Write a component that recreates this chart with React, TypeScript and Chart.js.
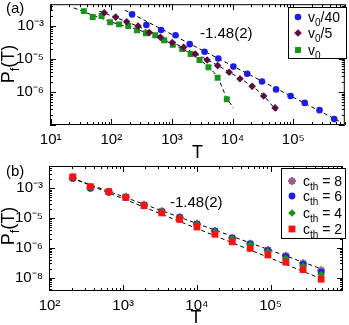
import React, { useEffect, useRef } from "react";
import { Chart, registerables } from "chart.js";
import { drawPoint } from "chart.js/helpers";

Chart.register(...registerables);

// ---------------- Panel (a) data ----------------
const aSeriesNames = ["v_0/40", "v_0/5", "v_0"];
const aBlueT = [220, 378, 662, 1145, 1963, 3443, 5808, 10300, 17400, 30500, 52100, 90400, 154500, 271000, 474000];
const aBlueP = [2.24e-3, 1.07e-3, 7.59e-4, 5.26e-4, 2.82e-4, 1.66e-4, 1.04e-4, 5.89e-5, 3.56e-5, 2.09e-5, 1.2e-5, 7.57e-6, 4.67e-6, 2.82e-6, 1.51e-6];
const aMaroonT = [76.4, 118, 179, 276, 423, 646, 1011, 1556, 2420, 3793, 5662, 8770, 13240, 21000, 32500, 50200];
const aMaroonP = [2.51e-3, 1.86e-3, 1.35e-3, 1.0e-3, 6.3e-4, 4.52e-4, 3.15e-4, 2.26e-4, 1.42e-4, 9.35e-5, 6.31e-5, 3.97e-5, 2.52e-5, 1.48e-5, 7.57e-6, 3.3e-6];
const aGreenT = [35.2, 49.3, 69.0, 95.5, 134, 190, 265, 372, 530, 741, 1030, 1470, 2035, 2850, 4000, 5660, 8020];
const aGreenP = [2.82e-3, 1.86e-3, 2.0e-3, 1.29e-3, 1.12e-3, 1.0e-3, 7.43e-4, 6.04e-4, 5.26e-4, 3.72e-4, 2.69e-4, 2.0e-4, 1.42e-4, 9.35e-5, 5.61e-5, 2.7e-5, 6.03e-6];
// dashed fit curves
const aFitBlueT = [167.5, 566000];
const aFitBlueP = [3.02e-3, 1.32e-6];
const aFitMaroonT = [63.4, 276, 1011, 3793, 8770, 21000, 32500, 53500];
const aFitMaroonP = [2.82e-3, 9.66e-4, 3.2e-4, 9.55e-5, 4.03e-5, 1.48e-5, 7.67e-6, 2.63e-6];
const aFitGreenT = [23.9, 95.5, 368, 1030, 2035, 4000, 5660, 7925, 10300];
const aFitGreenP = [3.54e-3, 1.36e-3, 6.38e-4, 2.79e-4, 1.45e-4, 5.69e-5, 2.75e-5, 6.92e-6, 3.24e-6];
const aXTicks = [10, 100, 1e3, 1e4, 1e5];
const aXLabels = ["10¹", "10²", "10³", "10⁴", "10⁵"];
const aYTicks = [1e-3, 1e-4, 1e-5];
const aYLabels = ["10⁻³", "10⁻⁵", "10⁻⁶"];
const aExponentText = "-1.48(2)";

// ---------------- Panel (b) data ----------------
const bSeriesNames = ["c_{th} = 8", "c_{th} = 6", "c_{th} = 4", "c_{th} = 2"];
const bT = [207, 359, 638, 1084, 1919, 3334, 5837, 10020, 17570, 30200, 52900, 91900, 161000, 276000, 485000];
const bP8 = [2.26e-3, 1.05e-3, 7.6e-4, 5.19e-4, 2.82e-4, 1.69e-4, 1.07e-4, 6.43e-5, 3.68e-5, 2.16e-5, 1.37e-5, 8.45e-6, 5.35e-6, 3.04e-6, 1.75e-6];
const bP6 = [2.14e-3, 1.0e-3, 7.38e-4, 5.04e-4, 2.74e-4, 1.66e-4, 1.05e-4, 6.28e-5, 3.6e-5, 2.11e-5, 1.34e-5, 8.02e-6, 5.07e-6, 2.75e-6, 1.53e-6];
const bP4 = [2.21e-3, 1.03e-3, 7.48e-4, 5.12e-4, 2.78e-4, 1.67e-4, 1.03e-4, 6.14e-5, 3.49e-5, 2.05e-5, 1.27e-5, 7.43e-6, 4.36e-6, 2.42e-6, 1.26e-6];
const bP2 = [2.44e-3, 1.14e-3, 7.78e-4, 4.92e-4, 2.61e-4, 1.49e-4, 8.99e-5, 5.0e-5, 2.86e-5, 1.59e-5, 9.55e-6, 5.78e-6, 3.29e-6, 1.84e-6, 8.79e-7];
const bFitUpperT = [199, 490000];
const bFitUpperP = [2.26e-3, 1.95e-6];
const bFitLowerT = [199, 505000];
const bFitLowerP = [2.26e-3, 8.79e-7];
const bXTicks = [1e2, 1e3, 1e4, 1e5];
const bXLabels = ["10²", "10³", "10⁴", "10⁵"];
const bYTicks = [1e-3, 1e-4, 1e-5, 1e-6];
const bYLabels = ["10⁻³", "10⁻⁵", "10⁻⁶", "10⁻⁸"];
const bExponentText = "-1.48(2)";

// ---------------- styles ----------------
const FONT = "'Liberation Sans', Arial, Helvetica, sans-serif";
const BLUE = "#1c1ce8";
const MAROON = "#5e0d3e";
const GREEN = "#189418";
const RED = "#ff0f0f";
const PINK = "#9c5a90";

const pts = (xs: number[], ys: number[]) => xs.map((x, i) => ({ x, y: ys[i] }));

type Part = { t: string; sub?: boolean };
function parseRich(s: string): Part[] {
  const parts: Part[] = [];
  let buf = "";
  let i = 0;
  while (i < s.length) {
    if (s[i] === "_") {
      if (buf) { parts.push({ t: buf }); buf = ""; }
      if (s[i + 1] === "{") {
        const j = s.indexOf("}", i);
        parts.push({ t: s.slice(i + 2, j), sub: true });
        i = j + 1;
      } else {
        parts.push({ t: s[i + 1], sub: true });
        i += 2;
      }
    } else {
      buf += s[i];
      i++;
    }
  }
  if (buf) parts.push({ t: buf });
  return parts;
}

function drawRich(ctx: CanvasRenderingContext2D, s: string, x: number, y: number, size: number, align: "left" | "center") {
  const parts = parseRich(s);
  const sub = Math.round(size * 0.72);
  const widths = parts.map((p) => {
    ctx.font = `${p.sub ? sub : size}px ${FONT}`;
    return ctx.measureText(p.t).width;
  });
  const total = widths.reduce((a, b) => a + b, 0);
  let cx = align === "center" ? x - total / 2 : x;
  ctx.textAlign = "left";
  ctx.textBaseline = "alphabetic";
  parts.forEach((p, i) => {
    ctx.font = `${p.sub ? sub : size}px ${FONT}`;
    ctx.fillText(p.t, cx, y + (p.sub ? size * 0.28 : 0));
    cx += widths[i];
  });
}

function logTicks(min: number, max: number) {
  const out: { v: number; major: boolean }[] = [];
  for (let e = Math.floor(Math.log10(min)) - 1; e <= Math.ceil(Math.log10(max)); e++) {
    for (let k = 1; k <= 9; k++) {
      const v = k * Math.pow(10, e);
      if (v >= min * 0.9999 && v <= max * 1.0001) out.push({ v, major: k === 1 });
    }
  }
  return out;
}

const decorPlugin = {
  id: "decor",
  afterDatasetsDraw(chart: any, _args: any, opts: any) {
    const { ctx, chartArea } = chart;
    const { left, right, top, bottom } = chartArea;
    const xs = chart.scales.x;
    const ys = chart.scales.y;
    ctx.save();
    ctx.strokeStyle = "#000";
    ctx.lineWidth = 1;
    ctx.setLineDash([]);
    ctx.strokeRect(left + 0.5, top + 0.5, right - left - 1, bottom - top - 1);
    ctx.beginPath();
    for (const t of logTicks(xs.min, xs.max)) {
      const px = Math.round(xs.getPixelForValue(t.v)) + 0.5;
      const len = t.major ? 6 : 3;
      ctx.moveTo(px, bottom); ctx.lineTo(px, bottom - len);
      ctx.moveTo(px, top); ctx.lineTo(px, top + len);
    }
    for (const t of logTicks(ys.min, ys.max)) {
      const py = Math.round(ys.getPixelForValue(t.v)) + 0.5;
      const len = t.major ? 6 : 3;
      ctx.moveTo(left, py); ctx.lineTo(left + len, py);
      ctx.moveTo(right, py); ctx.lineTo(right - len, py);
    }
    ctx.stroke();

    ctx.fillStyle = "#000";
    for (const t of opts.texts) {
      if (t.rotate) {
        ctx.save();
        ctx.translate(t.x, t.y);
        ctx.rotate(-Math.PI / 2);
        drawRich(ctx, t.s, 0, 0, t.size, "center");
        ctx.restore();
      } else {
        drawRich(ctx, t.s, t.x, t.y, t.size, t.align || "left");
      }
    }

    const lg = opts.legend;
    ctx.fillStyle = "#fff";
    ctx.fillRect(lg.box[0], lg.box[1], lg.box[2], lg.box[3]);
    ctx.strokeStyle = "#000";
    ctx.strokeRect(lg.box[0] + 0.5, lg.box[1] + 0.5, lg.box[2], lg.box[3]);
    lg.items.forEach((idx: number, row: number) => {
      const ds = chart.data.datasets[idx];
      const cy = lg.rows[row];
      ctx.fillStyle = ds.backgroundColor;
      ctx.strokeStyle = ds.borderColor;
      ctx.lineWidth = ds.borderWidth || 0;
      drawPoint(ctx, { pointStyle: ds.pointStyle, radius: ds.pointRadius, rotation: 0, borderWidth: ds.borderWidth || 0 } as any, lg.markerX, cy);
      ctx.fillStyle = "#000";
      drawRich(ctx, ds.label, lg.textX, cy + 5, lg.size, "left");
    });
    ctx.restore();
  },
};

function tickLabel(ticks: number[], labels: string[]) {
  return (v: any) => {
    const i = ticks.findIndex((t) => Math.abs(Math.log10(t) - Math.log10(Number(v))) < 1e-6);
    return i >= 0 ? labels[i] : "";
  };
}

function lineDs(xs: number[], ys: number[]) {
  return {
    data: pts(xs, ys),
    showLine: true,
    borderColor: "#000",
    backgroundColor: "#000",
    borderWidth: 1,
    borderDash: [4, 3],
    pointRadius: 0,
    fill: false,
    cubicInterpolationMode: "monotone",
  };
}

function markerDs(label: string, xs: number[], ys: number[], style: string, r: number, color: string, bw = 0, border?: string) {
  return {
    label,
    data: pts(xs, ys),
    showLine: false,
    pointStyle: style,
    pointRadius: r,
    pointHoverRadius: r,
    backgroundColor: color,
    borderColor: border || color,
    borderWidth: bw,
  };
}

function makeConfig(p: any): any {
  return {
    type: "scatter",
    data: { datasets: p.datasets },
    plugins: [decorPlugin],
    options: {
      responsive: false,
      animation: false,
      devicePixelRatio: 1,
      events: [],
      layout: { padding: { left: 0, right: 0, top: p.top, bottom: 0 } },
      plugins: { legend: { display: false }, tooltip: { enabled: false }, decor: p.decor },
      scales: {
        x: {
          type: "logarithmic",
          position: "bottom",
          min: p.xMin,
          max: p.xMax,
          grid: { display: false, drawTicks: false },
          border: { display: false },
          afterBuildTicks: (s: any) => { s.ticks = p.xTicks.map((v: number) => ({ value: v })); },
          afterFit: (s: any) => {
            s.height = p.xHeight;
            s.paddingLeft = 0; s.paddingRight = 0; s.paddingTop = 0; s.paddingBottom = 0;
          },
          ticks: { autoSkip: false, maxRotation: 0, padding: 6, color: "#000", font: { family: FONT, size: 15 }, callback: tickLabel(p.xTicks, p.xLabels) },
          title: { display: true, text: "T", color: "#000", font: { family: FONT, size: 18, lineHeight: 1 }, padding: { top: 0, bottom: -2 } },
        },
        y: {
          type: "logarithmic",
          position: "left",
          min: p.yMin,
          max: p.yMax,
          grid: { display: false, drawTicks: false },
          border: { display: false },
          afterBuildTicks: (s: any) => { s.ticks = p.yTicks.map((v: number) => ({ value: v })); },
          afterFit: (s: any) => {
            s.width = p.yWidth;
            s.paddingLeft = 0; s.paddingRight = 0; s.paddingTop = 0; s.paddingBottom = 0;
          },
          ticks: { autoSkip: false, padding: 6, color: "#000", font: { family: FONT, size: 15 }, callback: tickLabel(p.yTicks, p.yLabels) },
        },
      },
    },
  };
}

function configA() {
  return makeConfig({
    datasets: [
      markerDs(aSeriesNames[0], aBlueT, aBlueP, "circle", 3.3, BLUE),
      markerDs(aSeriesNames[1], aMaroonT, aMaroonP, "rectRot", 3.8, MAROON),
      markerDs(aSeriesNames[2], aGreenT, aGreenP, "rect", 4.2, GREEN),
      lineDs(aFitBlueT, aFitBlueP),
      lineDs(aFitMaroonT, aFitMaroonP),
      lineDs(aFitGreenT, aFitGreenP),
    ],
    top: 3,
    xHeight: 35,
    yWidth: 50,
    xMin: 9.74,
    xMax: 7.08e5,
    yMin: 1e-6,
    yMax: 4.57e-3,
    xTicks: aXTicks,
    xLabels: aXLabels,
    yTicks: aYTicks,
    yLabels: aYLabels,
    decor: {
      texts: [
        { s: "(a)", x: 6, y: 13, size: 15 },
        { s: aExponentText, x: 200, y: 38, size: 15 },
        { s: "P_f(T)", x: 14, y: 64, size: 18, rotate: true },
      ],
      legend: { box: [288, 7, 58, 51], rows: [17, 33, 50], markerX: 298, textX: 308, size: 14, items: [0, 1, 2] },
    },
  });
}

function configB() {
  return makeConfig({
    datasets: [
      markerDs(bSeriesNames[3], bT, bP2, "rect", 4.8, RED),
      markerDs(bSeriesNames[2], bT, bP4, "rectRot", 3.8, GREEN),
      markerDs(bSeriesNames[1], bT, bP6, "circle", 3.4, BLUE),
      markerDs(bSeriesNames[0], bT, bP8, "star", 4, PINK, 2, PINK),
      lineDs(bFitUpperT, bFitUpperP),
      lineDs(bFitLowerT, bFitLowerP),
    ],
    top: 4,
    xHeight: 34,
    yWidth: 49,
    xMin: 98.5,
    xMax: 9.6e5,
    yMin: 3.52e-7,
    yMax: 5.65e-3,
    xTicks: bXTicks,
    xLabels: bXLabels,
    yTicks: bYTicks,
    yLabels: bYLabels,
    decor: {
      texts: [
        { s: "(b)", x: 6, y: 16, size: 15 },
        { s: bExponentText, x: 170, y: 47, size: 15 },
        { s: "P_f(T)", x: 14, y: 66, size: 18, rotate: true },
      ],
      legend: { box: [281, 8, 64, 70], rows: [21, 36, 53, 69], markerX: 292, textX: 303, size: 14, items: [3, 2, 1, 0] },
    },
  });
}

export default function App() {
  const refA = useRef<HTMLCanvasElement>(null);
  const refB = useRef<HTMLCanvasElement>(null);
  useEffect(() => {
    const a = new Chart(refA.current as HTMLCanvasElement, configA());
    const b = new Chart(refB.current as HTMLCanvasElement, configB());
    return () => {
      a.destroy();
      b.destroy();
    };
  }, []);
  return (
    <div style={{ position: "absolute", left: 0, top: 0, width: 349, height: 325, background: "#fff" }}>
      <canvas ref={refA} width={349} height={160} style={{ display: "block", width: 349, height: 160 }} />
      <canvas ref={refB} width={349} height={165} style={{ display: "block", width: 349, height: 165 }} />
    </div>
  );
}
